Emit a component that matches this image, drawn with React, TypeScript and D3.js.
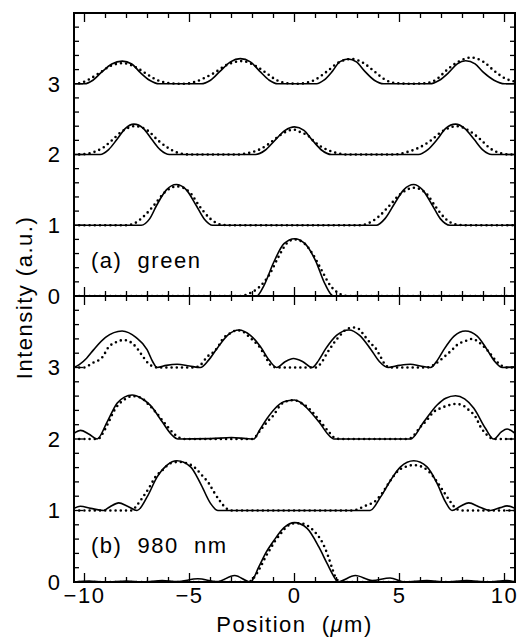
import React from 'react';
import * as d3 from 'd3';

type P = [number, number];

// ---------- axis / tick data ----------
const xDomain: [number, number] = [-10.5, 10.5];
const yDomain: [number, number] = [0, 4];
const xTickValues = [-10, -5, 0, 5, 10];
const xTickLabels = ['\u221210', '\u22125', '0', '5', '10'];
const yTickValues = [0, 1, 2, 3];
const yTickLabels = ['0', '1', '2', '3'];
const curveOffsets = [0, 1, 2, 3];
const xTitle = 'Position';
const yTitle = 'Intensity (a.u.)';
const panelLabels = ['(a)  green', '(b)  980  nm'];

// ---------- panel (a) green: calculation (solid) ----------
const greenSim0: P[] = [[-10.5,0],[-1.8,0],[-1.45,0.15],[-1.0,0.47],[-0.5,0.74],[0,0.81],[0.5,0.74],[1.0,0.5],[1.45,0.17],[1.85,0],[10.5,0]];
const greenSim1: P[] = [[-10.5,0],[-7.3,0],[-6.9,0.09],[-6.55,0.29],[-6.1,0.5],[-5.63,0.575],[-5.15,0.5],[-4.7,0.29],[-4.3,0.09],[-3.9,0],[3.9,0],[4.3,0.09],[4.73,0.29],[5.2,0.5],[5.67,0.575],[6.1,0.5],[6.55,0.29],[6.95,0.09],[7.4,0],[10.5,0]];
const greenSim2: P[] = [[-10.5,0],[-9.25,0],[-8.85,0.07],[-8.45,0.215],[-8.05,0.37],[-7.65,0.43],[-7.2,0.37],[-6.8,0.215],[-6.4,0.07],[-5.95,0],[-1.85,0],[-1.4,0.06],[-0.95,0.195],[-0.45,0.34],[0,0.39],[0.45,0.34],[0.87,0.195],[1.3,0.06],[1.75,0],[5.9,0],[6.35,0.07],[6.8,0.215],[7.2,0.37],[7.67,0.43],[8.1,0.37],[8.55,0.215],[8.95,0.07],[9.4,0],[10.5,0]];
const greenSim3: P[] = [[-10.5,0],[-10.0,0],[-9.6,0.05],[-9.2,0.16],[-8.7,0.28],[-8.2,0.32],[-7.75,0.28],[-7.35,0.16],[-6.9,0.05],[-6.45,0],[-4.45,0],[-4.0,0.05],[-3.55,0.175],[-3.05,0.31],[-2.58,0.355],[-2.1,0.31],[-1.65,0.175],[-1.2,0.05],[-0.8,0],[1.05,0],[1.4,0.05],[1.8,0.175],[2.15,0.31],[2.55,0.35],[2.95,0.31],[3.35,0.175],[3.8,0.05],[4.25,0],[6.45,0],[6.9,0.05],[7.35,0.16],[7.75,0.28],[8.15,0.325],[8.6,0.28],[9.0,0.16],[9.5,0.05],[10.0,0],[10.5,0]];

// ---------- panel (a) green: measurement (dots) ----------
const greenExp0: P[] = [[-10.5,0],[-2.6,0],[-2.2,0.03],[-1.7,0.12],[-1.2,0.3],[-0.75,0.56],[-0.35,0.75],[0,0.8],[0.4,0.76],[0.85,0.6],[1.3,0.36],[1.7,0.15],[2.1,0.04],[2.5,0],[10.5,0]];
const greenExp1: P[] = [[-10.5,0],[-8.0,0],[-7.6,0.03],[-7.2,0.12],[-6.7,0.28],[-6.2,0.46],[-5.6,0.55],[-5.0,0.47],[-4.55,0.28],[-4.0,0.09],[-3.5,0.01],[-3.0,0],[3.1,0],[3.6,0.04],[4.0,0.12],[4.5,0.27],[5.0,0.43],[5.7,0.53],[6.3,0.44],[6.7,0.27],[7.2,0.09],[7.7,0.01],[8.2,0],[10.5,0]];
const greenExp2: P[] = [[-10.5,0],[-10.0,0.005],[-9.5,0.04],[-9.1,0.1],[-8.7,0.2],[-8.2,0.33],[-7.6,0.4],[-7.0,0.34],[-6.5,0.2],[-6.0,0.09],[-5.5,0.02],[-5.0,0],[-2.7,0],[-2.26,0.017],[-1.94,0.04],[-1.62,0.078],[-1.3,0.134],[-0.99,0.205],[-0.67,0.276],[-0.35,0.33],[0,0.35],[0.32,0.31],[0.63,0.27],[0.95,0.18],[1.27,0.11],[1.59,0.064],[1.9,0.03],[2.2,0.01],[2.5,0],[4.7,0],[5.3,0.03],[5.8,0.08],[6.2,0.14],[6.5,0.2],[7.0,0.32],[7.75,0.4],[8.4,0.32],[8.9,0.2],[9.3,0.09],[9.8,0.02],[10.2,0],[10.5,0]];
const greenExp3: P[] = [[-10.5,0],[-10.2,0.01],[-9.8,0.06],[-9.3,0.15],[-8.7,0.26],[-8.15,0.29],[-7.6,0.24],[-7.1,0.15],[-6.6,0.06],[-6.0,0.01],[-5.5,0],[-5.2,0],[-4.7,0.03],[-4.3,0.08],[-3.84,0.15],[-3.2,0.27],[-2.5,0.32],[-1.9,0.26],[-1.38,0.16],[-0.9,0.06],[-0.4,0.01],[0.2,0],[0.5,0.01],[1.0,0.06],[1.55,0.175],[2.1,0.3],[2.75,0.35],[3.3,0.29],[3.8,0.175],[4.3,0.06],[4.8,0.01],[5.5,0],[6.3,0.01],[6.8,0.07],[7.2,0.18],[7.8,0.31],[8.4,0.37],[9.0,0.31],[9.5,0.185],[10.0,0.08],[10.5,0.03]];

// ---------- panel (b) 980 nm: calculation (solid) ----------
const irSim0: P[] = [[-10.5,0],[-9.8,0.015],[-9.0,0],[-8.0,0.015],[-7.2,0],[-6.3,0.02],[-5.6,0.005],[-4.6,0.045],[-3.7,0.005],[-2.85,0.09],[-2.1,0],[-1.7,0.21],[-1.38,0.4],[-0.98,0.58],[-0.5,0.76],[0,0.83],[0.6,0.75],[1.16,0.49],[1.55,0.26],[1.95,0.04],[2.05,0],[2.9,0.09],[3.7,0.02],[4.55,0.055],[5.25,0],[6.3,0.02],[7.2,0],[8.2,0.02],[9.2,0],[10.1,0.02],[10.5,0]];
const irSim1: P[] = [[-10.5,0.03],[-10.2,0.06],[-9.7,0.03],[-9.1,0],[-8.8,0.05],[-8.37,0.107],[-7.95,0.06],[-7.5,0],[-7.02,0.19],[-6.54,0.47],[-6.07,0.635],[-5.6,0.695],[-4.95,0.61],[-4.48,0.38],[-4.0,0.1],[-3.65,0],[3.6,0],[4.1,0.19],[4.57,0.42],[5.05,0.61],[5.68,0.695],[6.31,0.61],[6.79,0.38],[7.19,0.12],[7.5,0],[7.9,0.06],[8.3,0.107],[8.8,0.05],[9.33,0],[9.8,0.04],[10.12,0.065],[10.5,0.03]];
const irSim2: P[] = [[-10.5,0.08],[-10.19,0.12],[-9.8,0.07],[-9.4,0],[-8.92,0.24],[-8.45,0.5],[-8.1,0.585],[-7.73,0.615],[-7.3,0.57],[-6.86,0.47],[-6.3,0.24],[-5.85,0.06],[-5.55,0],[-4.0,0.005],[-3.0,0.02],[-2.3,0.005],[-1.94,0],[-1.65,0.13],[-1.3,0.29],[-0.95,0.42],[-0.51,0.52],[0,0.545],[0.3,0.51],[0.6,0.43],[1.16,0.24],[1.71,0.03],[1.87,0],[5.52,0],[6.16,0.24],[6.79,0.475],[7.2,0.57],[7.67,0.605],[8.1,0.56],[8.54,0.43],[9.09,0.15],[9.49,0],[9.85,0.1],[10.12,0.14],[10.5,0.08]];
const irSim3: P[] = [[-10.5,0],[-10.25,0.04],[-9.9,0.13],[-9.56,0.25],[-9.0,0.42],[-8.21,0.51],[-7.55,0.42],[-7.02,0.25],[-6.75,0.08],[-6.55,0],[-6.1,0.03],[-5.59,0.045],[-5.0,0.02],[-4.48,0],[-4.1,0.1],[-3.68,0.27],[-3.15,0.46],[-2.65,0.525],[-2.1,0.45],[-1.62,0.29],[-1.2,0.1],[-0.85,0],[-0.45,0.08],[-0.05,0.125],[0.4,0.08],[0.84,0],[1.15,0.1],[1.48,0.26],[2.0,0.45],[2.59,0.525],[3.1,0.45],[3.62,0.26],[4.05,0.08],[4.45,0],[5.0,0.03],[5.52,0.045],[6.0,0.02],[6.48,0],[6.8,0.1],[7.11,0.25],[7.6,0.44],[8.14,0.51],[8.7,0.44],[9.17,0.25],[9.55,0.08],[9.9,0],[10.5,0.01]];

// ---------- panel (b) 980 nm: measurement (dots) ----------
const irExp0: P[] = [[-10.5,0],[-2.2,0],[-1.86,0.09],[-1.62,0.21],[-1.38,0.35],[-1.14,0.47],[-0.91,0.58],[-0.59,0.7],[-0.35,0.78],[0,0.82],[0.32,0.82],[0.71,0.77],[1.03,0.68],[1.35,0.54],[1.59,0.37],[1.83,0.16],[1.98,0.05],[2.22,0],[10.5,0]];
const irExp1: P[] = [[-10.5,0],[-7.75,0],[-7.5,0.075],[-7.26,0.17],[-6.94,0.31],[-6.62,0.47],[-6.3,0.56],[-5.9,0.66],[-5.51,0.68],[-5.11,0.66],[-4.71,0.59],[-4.4,0.49],[-4.08,0.38],[-3.84,0.26],[-3.52,0.12],[-3.25,0.03],[-3.0,0],[2.8,0],[3.1,0.03],[3.45,0.075],[3.8,0.12],[4.17,0.24],[4.57,0.42],[4.97,0.565],[5.28,0.61],[5.68,0.635],[6.08,0.61],[6.48,0.52],[6.79,0.4],[7.11,0.26],[7.43,0.12],[7.75,0.015],[8.0,0],[10.5,0]];
const irExp2: P[] = [[-10.5,0],[-9.35,0],[-9.15,0.07],[-8.92,0.195],[-8.52,0.43],[-8.13,0.545],[-7.73,0.6],[-7.33,0.58],[-6.94,0.48],[-6.62,0.38],[-6.3,0.265],[-5.98,0.15],[-5.67,0.055],[-5.27,0],[-2.0,0],[-1.62,0.125],[-1.3,0.24],[-0.99,0.335],[-0.67,0.475],[-0.35,0.53],[0,0.545],[0.2,0.52],[0.6,0.45],[1.24,0.24],[1.63,0.1],[1.95,0.01],[2.2,0],[5.3,0],[5.52,0.01],[6.0,0.17],[6.31,0.265],[6.63,0.38],[6.95,0.43],[7.27,0.465],[7.67,0.49],[7.98,0.475],[8.3,0.405],[8.62,0.31],[8.86,0.17],[9.17,0.055],[9.49,0],[10.5,0]];
const irExp3: P[] = [[-10.5,0],[-10.03,0],[-9.64,0.06],[-9.16,0.14],[-8.84,0.29],[-8.52,0.35],[-8.13,0.385],[-7.73,0.34],[-7.5,0.27],[-7.26,0.17],[-7.0,0.07],[-6.75,0.015],[-6.5,0],[-4.8,0],[-4.48,0.035],[-4.16,0.15],[-3.84,0.22],[-3.6,0.31],[-3.45,0.385],[-3.05,0.48],[-2.73,0.52],[-2.5,0.51],[-2.26,0.455],[-1.94,0.37],[-1.7,0.3],[-1.38,0.15],[-1.14,0.035],[-0.83,0],[1.0,0],[1.31,0.08],[1.55,0.2],[1.87,0.34],[2.27,0.48],[2.5,0.54],[2.82,0.56],[3.06,0.54],[3.3,0.455],[3.62,0.34],[3.86,0.27],[4.1,0.15],[4.33,0.035],[4.57,0],[6.3,0],[6.63,0.035],[6.95,0.105],[7.27,0.185],[7.5,0.245],[7.74,0.315],[8.14,0.37],[8.46,0.4],[8.7,0.37],[8.93,0.315],[9.25,0.22],[9.49,0.13],[9.81,0.035],[10.12,0],[10.5,0]];

const greenSim = [greenSim0, greenSim1, greenSim2, greenSim3];
const greenExp = [greenExp0, greenExp1, greenExp2, greenExp3];
const irSim = [irSim0, irSim1, irSim2, irSim3];
const irExp = [irExp0, irExp1, irExp2, irExp3];

// ---------- layout ----------
const W = 518;
const H = 637;
const plotLeft = 74;
const plotRight = 515;
const FONT = "'Liberation Sans', Arial, Helvetica, sans-serif";
const FS = 22;
const LS = 1.5;

const panelBoxes = [
  { top: 13, bottom: 296, sim: greenSim, exp: greenExp, labelY: 268 },
  { top: 296, bottom: 582, sim: irSim, exp: irExp, labelY: 553 },
];

const x = d3.scaleLinear().domain(xDomain).range([plotLeft, plotRight]);

function Panel({ idx }: { idx: number }) {
  const pb = panelBoxes[idx];
  const y = d3.scaleLinear().domain(yDomain).range([pb.bottom, pb.top]);
  const clipId = `clip${idx}`;
  const mkLine = (off: number) =>
    d3
      .line<P>()
      .x((d) => x(d[0]))
      .y((d) => y(d[1] + off))
      .curve(d3.curveMonotoneX);

  const xMinor = d3.range(-10, 10.001, 1);
  const yMinor = d3.range(0, 4.001, 0.2);
  const majTick = 9;
  const minTick = 5;
  const ticks: JSX.Element[] = [];
  xMinor.forEach((v, i) => {
    const major = Math.abs(v % 5) < 1e-6;
    const len = major ? majTick : minTick;
    const px = x(v);
    ticks.push(<line key={`xt${i}`} x1={px} x2={px} y1={pb.top} y2={pb.top + len} />);
    ticks.push(<line key={`xb${i}`} x1={px} x2={px} y1={pb.bottom} y2={pb.bottom - len} />);
  });
  yMinor.forEach((v, i) => {
    const major = Math.abs(v - Math.round(v)) < 1e-6;
    const len = major ? majTick : minTick;
    const py = y(v);
    ticks.push(<line key={`yl${i}`} x1={plotLeft} x2={plotLeft + len} y1={py} y2={py} />);
    ticks.push(<line key={`yr${i}`} x1={plotRight} x2={plotRight - len} y1={py} y2={py} />);
  });

  return (
    <g>
      <defs>
        <clipPath id={clipId}>
          <rect x={plotLeft} y={pb.top} width={plotRight - plotLeft} height={pb.bottom - pb.top} />
        </clipPath>
      </defs>
      <g clipPath={`url(#${clipId})`}>
        {curveOffsets.map((off, i) => (
          <path
            key={`e${i}`}
            d={mkLine(off)(pb.exp[i]) || ''}
            fill="none"
            stroke="#000"
            strokeWidth={2.6}
            strokeLinecap="round"
            strokeDasharray="0 5.2"
          />
        ))}
        {curveOffsets.map((off, i) => (
          <path
            key={`s${i}`}
            d={mkLine(off)(pb.sim[i]) || ''}
            fill="none"
            stroke="#000"
            strokeWidth={1.6}
            strokeLinejoin="round"
          />
        ))}
      </g>
      <g stroke="#000" strokeWidth={1.3}>{ticks}</g>
      <rect
        x={plotLeft}
        y={pb.top}
        width={plotRight - plotLeft}
        height={pb.bottom - pb.top}
        fill="none"
        stroke="#000"
        strokeWidth={2}
      />
      {yTickValues.map((v, i) => (
        <text
          key={`yl${i}`}
          x={60}
          y={y(v)}
          dy="0.36em"
          textAnchor="end"
          fontFamily={FONT}
          fontSize={FS}
        >
          {yTickLabels[i]}
        </text>
      ))}
      <text
        x={91}
        y={pb.labelY}
        fontFamily={FONT}
        fontSize={FS}
        letterSpacing={LS}
        style={{ whiteSpace: 'pre' }}
      >
        {panelLabels[idx]}
      </text>
    </g>
  );
}

export default function App() {
  const bottom = panelBoxes[1].bottom;
  return (
    <svg
      width={W}
      height={H}
      viewBox={`0 0 ${W} ${H}`}
      style={{ position: 'absolute', left: 0, top: 0, background: '#fff', display: 'block' }}
    >
      <rect x={0} y={0} width={W} height={H} fill="#fff" />
      <Panel idx={0} />
      <Panel idx={1} />
      {xTickValues.map((v, i) => (
        <text
          key={`xl${i}`}
          x={x(v)}
          y={bottom + 21}
          textAnchor="middle"
          fontFamily={FONT}
          fontSize={FS}
          letterSpacing={LS}
        >
          {xTickLabels[i]}
        </text>
      ))}
      <text
        x={x(0)}
        y={bottom + 50}
        textAnchor="middle"
        fontFamily={FONT}
        fontSize={FS}
        letterSpacing={LS}
        style={{ whiteSpace: 'pre' }}
      >
        {xTitle + '  ('}
        <tspan fontStyle="italic">{'\u03bc'}</tspan>
        {'m)'}
      </text>
      <text
        transform={`translate(32, ${(panelBoxes[0].top + bottom) / 2}) rotate(-90)`}
        textAnchor="middle"
        fontFamily={FONT}
        fontSize={FS}
        letterSpacing={LS}
      >
        {yTitle}
      </text>
    </svg>
  );
}
